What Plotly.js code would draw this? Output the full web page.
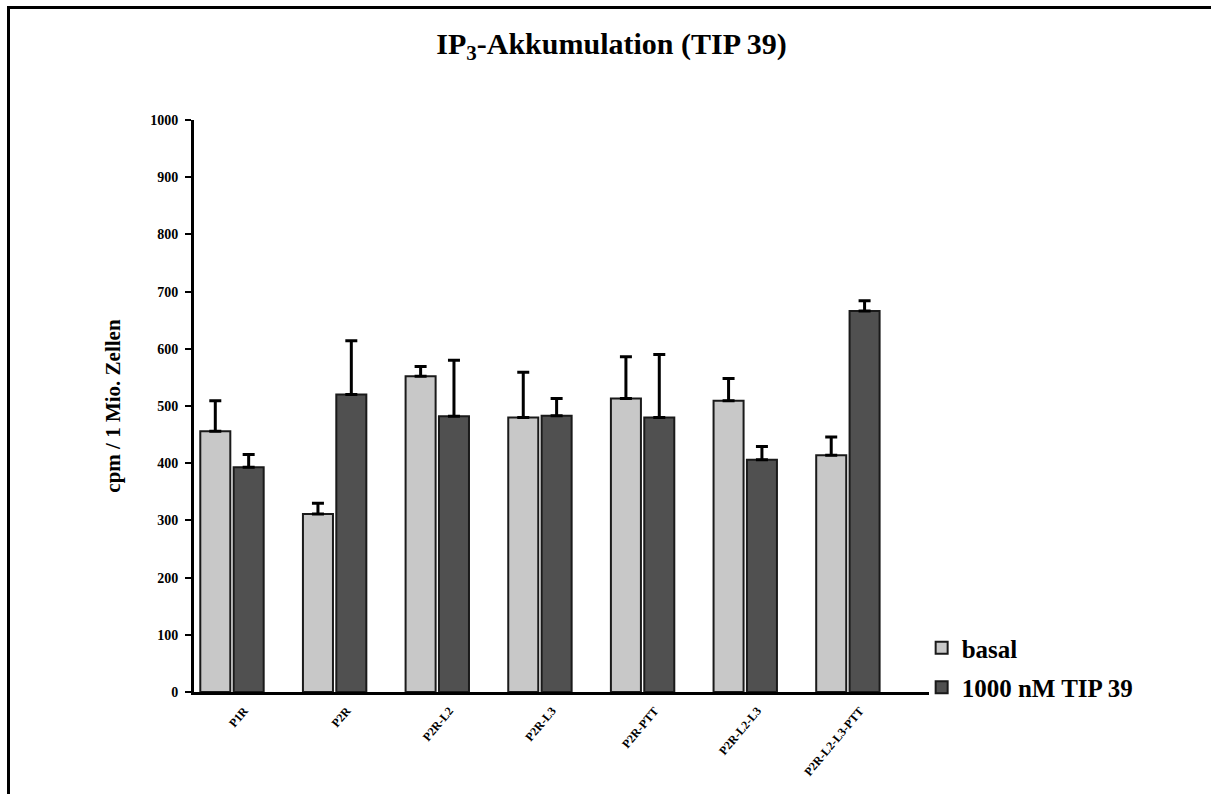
<!DOCTYPE html>
<html>
<head>
<meta charset="utf-8">
<script src="https://cdn.plot.ly/plotly-3.0.1.min.js"></script>
<style>
  html, body { margin: 0; padding: 0; background: #fff; }
  #wrap { position: relative; width: 1211px; height: 794px; }
  #chart { width: 1211px; height: 794px; }
  #frame {
    position: absolute; left: 7px; top: 6px; right: 0; bottom: 0;
    border-top: 3px solid #000; border-left: 3px solid #000;
    pointer-events: none;
  }
</style>
</head>
<body>
<div id="wrap">
  <div id="chart"></div>
  <div id="frame"></div>
</div>
<script>
// Receptor constructs
const categories = ["P1R", "P2R", "P2R-L2", "P2R-L3", "P2R-PTT", "P2R-L2-L3", "P2R-L2-L3-PTT"];

// IP3 accumulation, cpm per 1 million cells (mean and upper SD)
const basalMean = [456, 311, 552, 480, 513, 509, 414];
const basalSD   = [53, 19, 17, 79, 73, 39, 32];
const tipMean   = [393, 520, 482, 483, 480, 406, 666];
const tipSD     = [22, 94, 98, 30, 110, 23, 18];

const yTicks = [0, 100, 200, 300, 400, 500, 600, 700, 800, 900, 1000];

const serif = "Liberation Serif, Times New Roman, serif";

function barTrace(name, y, sd, fill) {
  return {
    type: "bar",
    name: name,
    legendgroup: name,
    x: categories,
    y: y,
    marker: { color: fill, line: { color: "#1a1a1a", width: 2 } },
    error_y: {
      type: "data", symmetric: false, array: sd,
      arrayminus: sd.map(() => 0),
      color: "#000", thickness: 3, width: 6
    },
    hoverinfo: "x+y"
  };
}

const data = [
  barTrace("basal", basalMean, basalSD, "#c8c8c8"),
  barTrace("1000 nM TIP 39", tipMean, tipSD, "#505050")
];

const layout = {
  width: 1211, height: 794,
  margin: { l: 194, r: 282, t: 120, b: 102 },
  paper_bgcolor: "#fff", plot_bgcolor: "#fff",
  barmode: "group", bargap: 0.35, bargroupgap: 0.1,
  font: { family: serif, color: "#000" },
  title: {
    text: "<b>IP<sub>3</sub>-Akkumulation (TIP 39)</b>",
    font: { family: serif, size: 30, color: "#000" },
    x: 0.505, xref: "container", xanchor: "center",
    y: 0.945, yanchor: "middle"
  },
  xaxis: {
    type: "category",
    range: [-0.37, 6.79],
    showline: true, linecolor: "#000", linewidth: 3,
    ticks: "", showgrid: false, zeroline: false,
    tickangle: -50,
    ticklabelshift: 12,
    ticklabelstandoff: 4,
    tickfont: { family: serif, size: 12, color: "#000", weight: "bold" }
  },
  yaxis: {
    range: [0, 1000],
    tickvals: yTicks,
    ticktext: yTicks.map(String),
    ticklabelstandoff: 4,
    showline: true, linecolor: "#000", linewidth: 3,
    ticks: "outside", ticklen: 6, tickwidth: 2, tickcolor: "#000",
    showgrid: false, zeroline: false,
    tickfont: { family: serif, size: 14, color: "#000", weight: "bold" },
    title: {
      text: "<b>cpm / 1 Mio. Zellen</b>",
      font: { family: serif, size: 21, color: "#000" },
      standoff: 24
    }
  },
  showlegend: true,
  legend: {
    x: 0.99, xanchor: "left", y: 0.117, yanchor: "top",
    font: { family: serif, size: 25, color: "#000", weight: "bold" },
    traceorder: "grouped", tracegroupgap: 4,
    bgcolor: "rgba(0,0,0,0)"
  }
};

Plotly.newPlot("chart", data, layout, { displayModeBar: false, staticPlot: true });
</script>
</body>
</html>
